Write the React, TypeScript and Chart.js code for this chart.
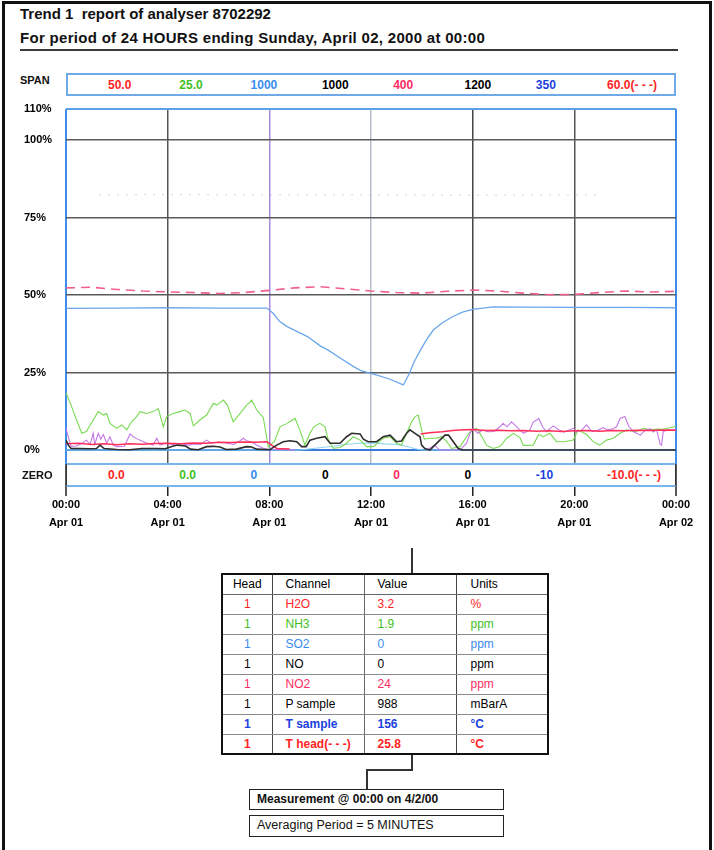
import React, { useEffect, useRef } from "react";
import { Chart, registerables } from "chart.js";

Chart.register(...registerables);

const FONT = "Arial, 'Liberation Sans', Helvetica, sans-serif";

// ---- axes ----
const hourTicks = [0, 4, 8, 12, 16, 20, 24];
const timeLabels = ["00:00", "04:00", "08:00", "12:00", "16:00", "20:00", "00:00"];
const dateLabels = ["Apr 01", "Apr 01", "Apr 01", "Apr 01", "Apr 01", "Apr 01", "Apr 02"];
const percentTicks = [0, 25, 50, 75, 100, 110];
const percentLabels = ["0%", "25%", "50%", "75%", "100%", "110%"];

// ---- channels ----
const channelNames = ["H2O", "NH3", "SO2", "NO", "NO2", "P sample", "T sample", "T head(- - -)"];
const spanValues = ["50.0", "25.0", "1000", "1000", "400", "1200", "350", "60.0(- - -)"];
const zeroValues = ["0.0", "0.0", "0", "0", "0", "0", "-10", "-10.0(- - -)"];
const channelColors = ["#ff2424", "#3fbf1f", "#3a8cf0", "#000000", "#ff2d62", "#000000", "#1c3fe0", "#ff2424"];
const headValues = ["1", "1", "1", "1", "1", "1", "1", "1"];
const currentValues = ["3.2", "1.9", "0", "0", "24", "988", "156", "25.8"];
const unitValues = ["%", "ppm", "ppm", "ppm", "ppm", "mBarA", "\u00B0C", "\u00B0C"];
const boldRows = [false, false, false, false, false, false, true, true];

// ---- series: [hour, % of span] ----
const tHead = [
  [0, 52.3], [1, 52.5], [2, 51.8], [3, 51.3], [4, 51.0], [5, 50.8], [6, 50.5], [7, 50.8],
  [8, 51.5], [9, 52.3], [10, 52.7], [11, 52.0], [12, 51.3], [13, 50.8], [14, 50.6], [15, 51.2],
  [16, 51.6], [17, 51.3], [18, 50.6], [19, 50.1], [20, 50.2], [21, 50.8], [22, 51.3], [23, 51.0], [24, 51.2],
];
const tSample = [
  [0, 45.7], [2, 45.8], [4, 45.9], [6, 45.8], [7.9, 45.8], [8.15, 44.1], [8.4, 41.5], [8.7, 39.8],
  [9.0, 38.6], [9.5, 36.6], [10.0, 33.6], [10.3, 32.3], [10.8, 29.6], [11.3, 27.0], [11.6, 25.6],
  [12.1, 24.5], [12.7, 23.0], [13.27, 21.0], [13.5, 24.5], [13.7, 28.5], [13.95, 32.3], [14.2, 35.8],
  [14.45, 38.7], [14.8, 41.0], [15.2, 43.0], [15.6, 44.5], [16.0, 45.4], [16.8, 46.2], [18, 46.1],
  [20, 46.0], [22, 46.0], [24, 45.9],
];
const pSample = [[1.3, 82.3], [4, 82.4], [8, 82.3], [12, 82.3], [16, 82.2], [21, 82.3]];
const nh3 = [
  [0.0, 18.5], [0.2, 14.5], [0.4, 10.0], [0.62, 5.4], [0.8, 6.0], [1.07, 9.7], [1.27, 12.4], [1.47, 11.3],
  [1.6, 11.8], [1.73, 8.6], [2.0, 7.0], [2.19, 8.1], [2.39, 6.5], [2.58, 9.1], [2.78, 10.8], [2.91, 12.4],
  [3.17, 11.8], [3.43, 12.4], [3.63, 13.4], [3.83, 7.5], [3.96, 10.8], [4.22, 11.8], [4.48, 12.4],
  [4.68, 12.9], [4.88, 11.8], [5.01, 7.8], [5.27, 9.7], [5.53, 11.3], [5.8, 15.1], [5.93, 14.5],
  [6.19, 16.1], [6.35, 14.5], [6.58, 9.1], [6.85, 11.8], [7.11, 14.5], [7.31, 16.1], [7.5, 13.0],
  [7.76, 10.5], [7.96, 1.0], [8.2, 2.8], [8.42, 7.5], [8.7, 8.6], [9.01, 10.2], [9.2, 6.5], [9.4, 1.6],
  [9.6, 5.4], [9.75, 7.5], [9.99, 8.6], [10.19, 7.5], [10.32, 3.2], [10.52, 0.6], [10.78, 0.8],
  [11.04, 2.2], [11.3, 4.3], [11.57, 3.2], [11.83, 1.1], [12.09, 1.1], [12.48, 3.8], [12.75, 4.3],
  [13.0, 2.2], [13.2, 1.6], [13.4, 5.4], [13.6, 9.1], [13.73, 10.8], [13.86, 11.3], [13.99, 6.5],
  [14.1, 3.5], [14.3, 3.8], [14.58, 3.8], [14.78, 4.3], [14.98, 2.7], [15.17, 0.5], [15.5, 1.1],
  [15.76, 4.3], [15.96, 6.5], [16.16, 7.0], [16.35, 4.5], [16.55, 1.5], [16.81, 0.5], [17.07, 1.1],
  [17.34, 3.8], [17.6, 5.4], [17.86, 4.0], [17.99, 1.5], [18.38, 1.6], [18.6, 5.0], [18.78, 4.3],
  [19.04, 5.4], [19.3, 2.7], [19.6, 2.7], [19.96, 3.2], [20.15, 6.5], [20.48, 5.0], [20.74, 2.7],
  [21.0, 1.6], [21.27, 3.2], [21.53, 3.8], [21.8, 5.4], [22.06, 6.5], [22.4, 5.9], [22.71, 7.0],
  [23.0, 6.5], [23.3, 6.8], [23.5, 6.7], [23.75, 7.2], [24.0, 7.6],
];
const h2o = [
  [0, 2.0], [0.5, 2.2], [1, 1.8], [1.5, 2.0], [2, 1.7], [2.5, 2.0], [3, 1.9], [3.5, 2.1], [4, 2.2],
  [4.5, 2.0], [5, 2.3], [5.5, 2.2], [6, 2.5], [6.5, 2.4], [7, 2.6], [7.5, 2.5], [7.9, 2.7], [8.1, 1.5],
  [8.3, 0.5], [8.8, 0.3], [8.9, null], [13.95, 5.2], [14.3, 5.6], [14.8, 5.9], [15.2, 6.3], [15.5, 6.5],
  [16, 6.6], [16.5, 6.3], [17, 6.4], [17.5, 6.2], [18, 6.3], [18.5, 6.1], [19, 6.2], [19.5, 6.0],
  [20, 6.2], [20.5, 6.3], [21, 6.1], [21.5, 6.3], [22, 6.2], [22.5, 6.4], [23, 6.3], [23.5, 6.5], [24, 6.4],
];
const no2 = [
  [0, 7.0], [0.1, 4.0], [0.2, 1.2], [0.4, 1.3], [0.6, 2.0], [0.8, 3.2], [0.95, 1.8], [1.07, 5.4],
  [1.13, 1.8], [1.27, 5.4], [1.37, 3.5], [1.47, 5.0], [1.6, 2.2], [1.73, 4.3], [1.86, 1.6], [2.0, 1.1],
  [2.3, 1.2], [2.52, 5.2], [2.65, 4.3], [2.8, 3.6], [3.0, 2.8], [3.2, 2.2], [3.43, 1.6], [3.57, 3.8],
  [3.7, 1.6], [3.9, 2.2], [4.2, 1.8], [4.5, 2.1], [4.8, 1.6], [5.0, 2.0], [5.3, 1.8], [5.53, 3.2],
  [5.7, 2.2], [6.0, 2.5], [6.3, 2.3], [6.6, 1.8], [6.85, 3.0], [6.98, 3.8], [7.1, 3.0], [7.3, 2.6],
  [7.5, 1.6], [7.76, 0.6], [8.0, 0.2], [8.5, 0.1], [9.0, 0], [9.1, null], [14.2, 0], [14.5, 1.6],
  [14.7, 0], [15.5, 0], [15.76, 2.2], [15.9, 5.4], [16.02, 7.0], [16.2, 5.4], [16.42, 6.5], [16.6, 5.9],
  [16.85, 6.0], [17.07, 7.5], [17.2, 8.6], [17.35, 7.5], [17.53, 9.1], [17.7, 7.8], [17.85, 6.5],
  [18.0, 5.4], [18.25, 6.5], [18.38, 9.0], [18.52, 9.7], [18.6, 10.2], [18.75, 7.5], [18.9, 5.9],
  [19.17, 7.8], [19.4, 6.5], [19.6, 5.8], [19.8, 6.5], [19.96, 7.0], [20.09, 5.9], [20.3, 6.5],
  [20.48, 8.1], [20.7, 5.9], [20.9, 6.3], [21.14, 7.2], [21.3, 6.5], [21.5, 6.8], [21.66, 7.5],
  [21.8, 10.2], [21.99, 10.8], [22.15, 7.5], [22.32, 6.0], [22.45, 5.4], [22.6, 4.8], [22.8, 6.5],
  [23.0, 6.8], [23.1, 5.8], [23.24, 6.5], [23.37, 2.0], [23.43, 1.6], [23.5, 6.0], [23.7, 6.5], [24, 6.5],
];
const no = [
  [0, 3.2], [0.1, 1.5], [0.2, 0.5], [0.5, 0.5], [0.9, 0.4], [1.2, 0.5], [1.34, 1.6], [1.5, 0.5],
  [2.0, 0.2], [2.5, 0.1], [3.0, 0.5], [3.5, 0.5], [3.9, 0.4], [4.22, 1.3], [4.4, 1.6], [4.7, 1.3],
  [4.9, 0.3], [5.2, 0.1], [5.53, 1.1], [5.8, 1.2], [6.06, 1.0], [6.3, 0.2], [6.7, 0.3], [7.11, 1.1],
  [7.3, 1.0], [7.5, 0.3], [8.02, 0.1], [8.29, 1.6], [8.55, 2.7], [8.81, 3.0], [9.08, 2.7], [9.27, 1.1],
  [9.45, 1.1], [9.6, 3.2], [9.86, 3.8], [10.19, 4.3], [10.39, 2.2], [10.78, 2.2], [11.04, 4.3],
  [11.24, 5.4], [11.57, 5.2], [11.7, 3.5], [11.89, 2.7], [12.22, 2.7], [12.48, 4.3], [12.75, 4.8],
  [13.0, 2.7], [13.2, 2.9], [13.4, 5.4], [13.53, 6.5], [13.73, 5.4], [13.93, 4.3], [13.99, 1.6],
  [14.12, 0.5], [14.32, 0], [14.45, 1.1], [14.71, 3.2], [14.91, 4.8], [15.05, 4.8], [15.24, 2.7],
  [15.43, 0.5], [15.6, 0], [24, 0],
];
const so2 = [
  [0, 0], [9.2, 0], [9.8, 0.6], [10.5, 1.2], [11.0, 1.8], [11.5, 2.2], [12.1, 2.3], [12.5, 2.0],
  [13.0, 1.8], [13.4, 1.2], [13.7, 0.5], [14.0, 0], [24, 0],
];

// grid styling per tick
const xGridColors = ["#3d8ee8", "#555555", "#a98ad8", "#b4bfcc", "#444444", "#555555", "#3d8ee8"];
const xGridWidths = [2, 1.5, 1.5, 1.5, 1.5, 1.5, 2];
const yGridColors = ["#3b78d8", "#5a5a5a", "#5a5a5a", "#5a5a5a", "#5a5a5a", "#5aa0ea"];
const yGridWidths = [2, 1.5, 1.5, 1.5, 1.5, 2];

const pts = (arr: any[]) => arr.map(([x, y]) => ({ x, y }));

function TrendChart() {
  const ref = useRef<HTMLCanvasElement>(null);
  useEffect(() => {
    const canvas = ref.current as HTMLCanvasElement;
    const line = (label: string, data: any[], color: string, width: number, extra: any = {}) => ({
      label,
      data: pts(data),
      borderColor: color,
      backgroundColor: color,
      borderWidth: width,
      pointRadius: 0,
      tension: 0,
      spanGaps: false,
      fill: false,
      ...extra,
    });
    const chart = new Chart(canvas, {
      type: "line",
      data: {
        datasets: [
          line("NO", no, "#2e2e2e", 1.6),
          line("H2O", h2o, "#ff2f5a", 1.5),
          line("NO2", no2, "#c678e6", 1.1),
          line("NH3", nh3, "#78da52", 1.1),
          line("SO2", so2, "#8fd6f2", 1.1),
          line("T sample", tSample, "#6ba7ec", 1.3),
          line("T head", tHead, "#f0608a", 1.6, { borderDash: [9, 6] }),
          line("P sample", pSample, "rgba(200,160,225,0.55)", 1, { borderDash: [2, 7] }),
        ],
      },
      options: {
        animation: false,
        responsive: false,
        devicePixelRatio: 1,
        events: [],
        layout: { padding: { left: 24, right: 38, top: 9, bottom: 0 }, autoPadding: false },
        plugins: { legend: { display: false }, tooltip: { enabled: false } },
        scales: {
          x: {
            type: "linear",
            min: 0,
            max: 24,
            afterBuildTicks: (axis: any) => {
              axis.ticks = hourTicks.map((v) => ({ value: v }));
            },
            afterFit: (axis: any) => {
              axis.height = 76;
            },
            border: { display: false },
            grid: {
              color: (ctx: any) => xGridColors[ctx.index] ?? "#555",
              lineWidth: (ctx: any) => xGridWidths[ctx.index] ?? 1.5,
              drawTicks: true,
              tickLength: 32,
              tickColor: "#222222",
              tickWidth: 1.5,
            },
            ticks: {
              autoSkip: false,
              maxRotation: 0,
              padding: 0,
              color: "#000",
              font: { family: FONT, size: 11, weight: "bold", lineHeight: 1.64 },
              callback: (_v: any, i: number) => [timeLabels[i], dateLabels[i]],
            },
          },
          y: {
            type: "linear",
            min: -4.5,
            max: 110,
            afterBuildTicks: (axis: any) => {
              axis.ticks = percentTicks.map((v) => ({ value: v }));
            },
            afterFit: (axis: any) => {
              axis.width = 42;
            },
            border: { display: false },
            grid: {
              color: (ctx: any) => yGridColors[ctx.index] ?? "#555",
              lineWidth: (ctx: any) => yGridWidths[ctx.index] ?? 1.5,
              drawTicks: false,
            },
            ticks: {
              autoSkip: false,
              padding: 0,
              crossAlign: "far",
              color: "#000",
              font: { family: FONT, size: 11, weight: "bold" },
              callback: (_v: any, i: number) => percentLabels[i],
            },
          },
        },
      },
    } as any);
    return () => chart.destroy();
  }, []);
  return (
    <canvas
      ref={ref}
      width={714}
      height={440}
      style={{ position: "absolute", left: 0, top: 100, width: 714, height: 440 }}
    />
  );
}

const colLeft = (i: number) => 108 + i * 71.3;

export default function App() {
  const abs = (o: any) => ({ position: "absolute" as const, ...o });
  return (
    <div style={{ position: "absolute", left: 0, top: 0, width: 714, height: 850, overflow: "hidden", background: "#fff", fontFamily: FONT }}>
      {/* outer frame */}
      <div style={abs({ left: 2, top: 1, width: 704, height: 870, border: "3px solid #111", boxSizing: "content-box" })} />

      {/* title */}
      <div style={abs({ left: 20, top: 5, font: `bold 15px ${FONT}`, lineHeight: "18px", whiteSpace: "pre", color: "#111" })}>
        Trend 1  report of analyser 8702292
      </div>
      <div style={abs({ left: 20, top: 29, font: `bold 15px ${FONT}`, lineHeight: "18px", whiteSpace: "pre", color: "#111", letterSpacing: "0.3px" })}>
        For period of 24 HOURS ending Sunday, April 02, 2000 at 00:00
      </div>
      <div style={abs({ left: 20, top: 49, width: 658, height: 2, background: "#3a3a3a" })} />

      {/* SPAN row */}
      <div style={abs({ left: 20, top: 73, font: `bold 11px ${FONT}`, lineHeight: "14px", color: "#111" })}>SPAN</div>
      <div style={abs({ left: 66, top: 73, width: 610, height: 23, border: "2px solid #6fa9e8", boxSizing: "border-box", background: "#fff" })} />
      {spanValues.map((v, i) => (
        <div key={"s" + i} style={abs({ left: colLeft(i), top: 78, font: `bold 12px ${FONT}`, lineHeight: "14px", whiteSpace: "pre", color: channelColors[i] })}>
          {v}
        </div>
      ))}

      <TrendChart />

      {/* ZERO row */}
      <div style={abs({ left: 22, top: 468, font: `bold 11px ${FONT}`, lineHeight: "14px", color: "#111" })}>ZERO</div>
      <div
        style={abs({
          left: 66, top: 463, width: 610, height: 24, boxSizing: "border-box", background: "#fff",
          borderTop: "2px solid #79b3ea", borderBottom: "2px solid #79b3ea", borderLeft: "1.5px solid #333", borderRight: "1.5px solid #333",
        })}
      />
      {zeroValues.map((v, i) => (
        <div key={"z" + i} style={abs({ left: colLeft(i), top: 468, font: `bold 12px ${FONT}`, lineHeight: "14px", whiteSpace: "pre", color: channelColors[i] })}>
          {v}
        </div>
      ))}

      {/* connector to table */}
      <div style={abs({ left: 411, top: 548, width: 1.5, height: 25, background: "#333" })} />

      {/* table */}
      <table
        style={abs({
          left: 221, top: 573, width: 326, borderCollapse: "collapse", tableLayout: "fixed",
          border: "2px solid #111", font: `12px ${FONT}`,
        })}
      >
        <colgroup>
          <col style={{ width: 50 }} />
          <col style={{ width: 92 }} />
          <col style={{ width: 92 }} />
          <col style={{ width: 92 }} />
        </colgroup>
        <tbody>
          <tr style={{ height: 20 }}>
            <td style={{ textAlign: "center", padding: 0, borderRight: "1.5px solid #444", borderBottom: "1px solid #666" }}>Head</td>
            <td style={{ paddingLeft: 13, borderRight: "1px solid #666", borderBottom: "1px solid #666" }}>Channel</td>
            <td style={{ paddingLeft: 13, borderRight: "1px solid #444", borderBottom: "1px solid #666" }}>Value</td>
            <td style={{ paddingLeft: 14, borderBottom: "1px solid #666" }}>Units</td>
          </tr>
          {channelNames.map((c, i) => {
            const col = channelColors[i];
            const fw = boldRows[i] ? "bold" : "normal";
            const bb = i < channelNames.length - 1 ? "1px solid #8a8a8a" : "none";
            return (
              <tr key={"r" + i} style={{ height: 20, color: col, fontWeight: fw as any }}>
                <td style={{ textAlign: "center", padding: 0, borderRight: "1.5px solid #444", borderBottom: bb }}>{headValues[i]}</td>
                <td style={{ paddingLeft: 13, borderRight: "1px solid #666", borderBottom: bb, whiteSpace: "pre" }}>{c}</td>
                <td style={{ paddingLeft: 13, borderRight: "1px solid #444", borderBottom: bb }}>{currentValues[i]}</td>
                <td style={{ paddingLeft: 14, borderBottom: bb }}>{unitValues[i]}</td>
              </tr>
            );
          })}
        </tbody>
      </table>

      {/* connector to measurement box */}
      <div style={abs({ left: 411, top: 755, width: 1.5, height: 15, background: "#333" })} />
      <div style={abs({ left: 366, top: 769, width: 47, height: 1.5, background: "#333" })} />
      <div style={abs({ left: 366, top: 769, width: 1.5, height: 20, background: "#333" })} />

      <div
        style={abs({
          left: 249, top: 789, width: 255, height: 21, border: "1.5px solid #222", boxSizing: "border-box",
          font: `bold 12px ${FONT}`, lineHeight: "18px", paddingLeft: 7, color: "#111", whiteSpace: "pre",
        })}
      >
        Measurement @ 00:00 on 4/2/00
      </div>
      <div
        style={abs({
          left: 249, top: 815, width: 255, height: 22, border: "1.5px solid #222", boxSizing: "border-box",
          font: `12.5px ${FONT}`, lineHeight: "19px", paddingLeft: 7, color: "#111", whiteSpace: "pre",
        })}
      >
        Averaging Period = 5 MINUTES
      </div>
    </div>
  );
}
